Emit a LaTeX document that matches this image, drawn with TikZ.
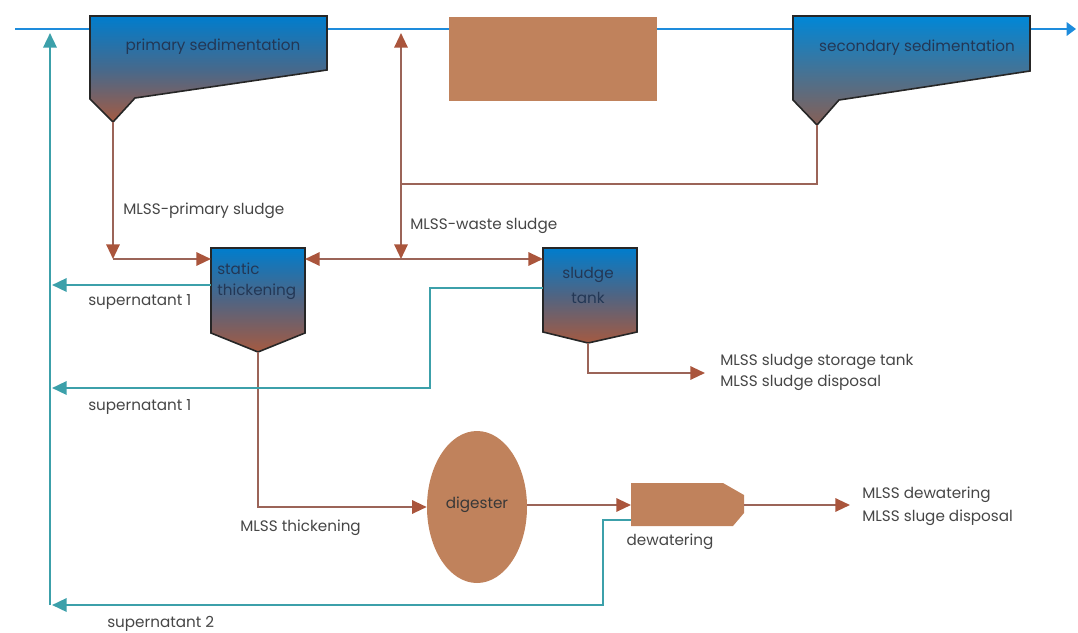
\documentclass[tikz,border=0pt]{standalone}
\usepackage{fontspec}
\setmainfont{Poppins}
\usetikzlibrary{arrows.meta,shapes.geometric}
\definecolor{mainblue}{RGB}{30,140,220}
\definecolor{sludge}{RGB}{155,100,88}
\definecolor{sludgetip}{RGB}{170,85,60}
\definecolor{tealc}{RGB}{60,160,170}
\definecolor{tankblue}{RGB}{0,125,205}
\definecolor{tankbrown}{RGB}{165,90,65}
\definecolor{boxbrown}{RGB}{192,130,92}
\definecolor{txt}{RGB}{70,70,70}
\definecolor{tanktxt}{RGB}{35,55,85}
\tikzset{
  lbl/.style={text=txt, font=\fontsize{11.4pt}{13pt}\selectfont, inner sep=0pt},
  tanklbl/.style={text=tanktxt, font=\fontsize{11.4pt}{13pt}\selectfont, inner sep=0pt},
  sludgeline/.style={draw=sludge, line width=1.6pt},
  sludgearrow/.style={sludgeline, -{Triangle[length=11pt,width=10pt,color=sludgetip]}},
  tealline/.style={draw=tealc, line width=1.8pt},
  tealarrow/.style={tealline, -{Triangle[length=11pt,width=10pt,color=tealc]}},
  mainline/.style={draw=mainblue, line width=2pt, -{Triangle[length=7pt,width=10pt,color=mainblue]}},
  tank/.style={draw=black!85, line width=1.2pt, line join=miter},
  brownbox/.style={fill=boxbrown, draw=none}
}
\begin{document}
\begin{tikzpicture}[x=0.75pt,y=-0.75pt]
\useasboundingbox (0,0) rectangle (1078,632);
% coordinates
\coordinate (in) at (15,29);
\coordinate (out) at (1076,29);
% main line
\draw[mainline] (in) -- (out);
% primary sedimentation
\shadedraw[tank, top color=tankblue, bottom color=tankbrown, middle color={rgb,255:red,70;green,105;blue,140}]
  (90,16) -- (327,16) -- (327,70) -- (135,98) -- (113,122) -- (90,99) -- cycle;
\coordinate (ptip) at (113,122);
\node[tanklbl] (psed) at (213,47) {primary sedimentation};
% aeration
\node[brownbox, minimum width=156pt, minimum height=63pt, inner sep=0pt] (aer) at (553,59) {};
% secondary sedimentation
\shadedraw[tank, top color={rgb,255:red,0;green,135;blue,215}, middle color={rgb,255:red,20;green,130;blue,200}, bottom color={rgb,255:red,135;green,95;blue,85}]
  (793,16) -- (1030,16) -- (1030,71) -- (839,100) -- (817,125) -- (793,100) -- cycle;
\coordinate (stip) at (817,125);
\node[tanklbl] (ssed) at (917,48) {secondary sedimentation};
% static thickening
\shadedraw[tank, top color=tankblue, bottom color=tankbrown, middle color={rgb,255:red,80;green,100;blue,130}]
  (211,248) -- (305,248) -- (305,333) -- (258,352) -- (211,333) -- cycle;
\coordinate (thtip) at (258,352);
\coordinate (thL) at (211,259);
\coordinate (thR) at (305,259);
\coordinate (thS) at (211,285);
\node[tanklbl, anchor=west] (th1) at (217,269) {static};
\node[tanklbl, anchor=west] (th2) at (217,292) {thickening};
% sludge tank
\shadedraw[tank, top color=tankblue, bottom color=tankbrown, middle color={rgb,255:red,80;green,100;blue,130}]
  (543,248) -- (637,248) -- (637,332) -- (588,343) -- (543,332) -- cycle;
\coordinate (sttip) at (588,343);
\coordinate (stL) at (543,259);
\coordinate (stS) at (543,288);
\node[tanklbl] (st1) at (588,275) {sludge};
\node[tanklbl] (st2) at (588,298) {tank};
% digester
\node[ellipse, fill=boxbrown, minimum width=75pt, minimum height=114pt, inner sep=0pt] (dig) at (477,507) {};
\node[tanklbl, text=txt!80!black] (diglbl) at (477,505) {digester};
% dewatering
\fill[boxbrown] (631,483) -- (723,483) -- (744,495) -- (744,513) -- (733,526) -- (631,526) -- cycle;
\coordinate (dwL) at (631,505);
\coordinate (dwR) at (744,505);
\coordinate (dwS) at (631,520);
\node[lbl] (dwlbl) at (670,542) {dewatering};
% junction coordinates
\coordinate (pj) at (113,259);
\coordinate (wj) at (401,184);
\coordinate (ret) at (401,33);
\coordinate (j2) at (401,259);
\coordinate (stout) at (705,373);
\coordinate (dwout) at (850,505);
\coordinate (bend1) at (430,288);
\coordinate (s1a) at (52,285);
\coordinate (s1b) at (52,388);
\coordinate (bend2) at (603,520);
\coordinate (s2) at (52,605);
\coordinate (vbot) at (50,605);
\coordinate (vtop) at (50,33);
% sludge connectors
\draw[sludgearrow] (ptip) -- (pj);
\draw[sludgearrow] (pj) -- (thL);
\draw[sludgeline] (stip) |- (wj);
\draw[sludgearrow] (wj) -- (ret);
\draw[sludgearrow] (wj) -- (j2);
\draw[sludgearrow] (j2) -- (thR);
\draw[sludgearrow] (j2) -- (stL);
\draw[sludgearrow] (sttip) |- (stout);
\draw[sludgearrow] (thtip) |- (dig.west);
\draw[sludgearrow] (dig.east |- dwL) -- (dwL);
\draw[sludgearrow] (dwR) -- (dwout);
% supernatant connectors
\draw[tealarrow] (thS) -- (s1a);
\draw[tealarrow] (stS) -- (bend1) |- (s1b);
\draw[tealarrow] (dwS) -- (bend2) |- (s2);
\draw[tealarrow] (vbot) -- (vtop);
% labels
\node[lbl, anchor=west] (l1) at (123,211) {MLSS-primary sludge};
\node[lbl, anchor=west] (l2) at (410,226) {MLSS-waste sludge};
\node[lbl, anchor=west] (l3) at (88,302) {supernatant 1};
\node[lbl, anchor=west] (l4) at (88,407) {supernatant 1};
\node[lbl, anchor=west] (l5) at (107,624) {supernatant 2};
\node[lbl, anchor=west] (l6) at (240,528) {MLSS thickening};
\node[lbl, anchor=west] (l7a) at (720,362) {MLSS sludge storage tank};
\node[lbl, anchor=west] (l7b) at (720,383) {MLSS sludge disposal};
\node[lbl, anchor=west] (l8a) at (862,495) {MLSS dewatering};
\node[lbl, anchor=west] (l8b) at (862,518) {MLSS sluge disposal};
\end{tikzpicture}
\end{document}
